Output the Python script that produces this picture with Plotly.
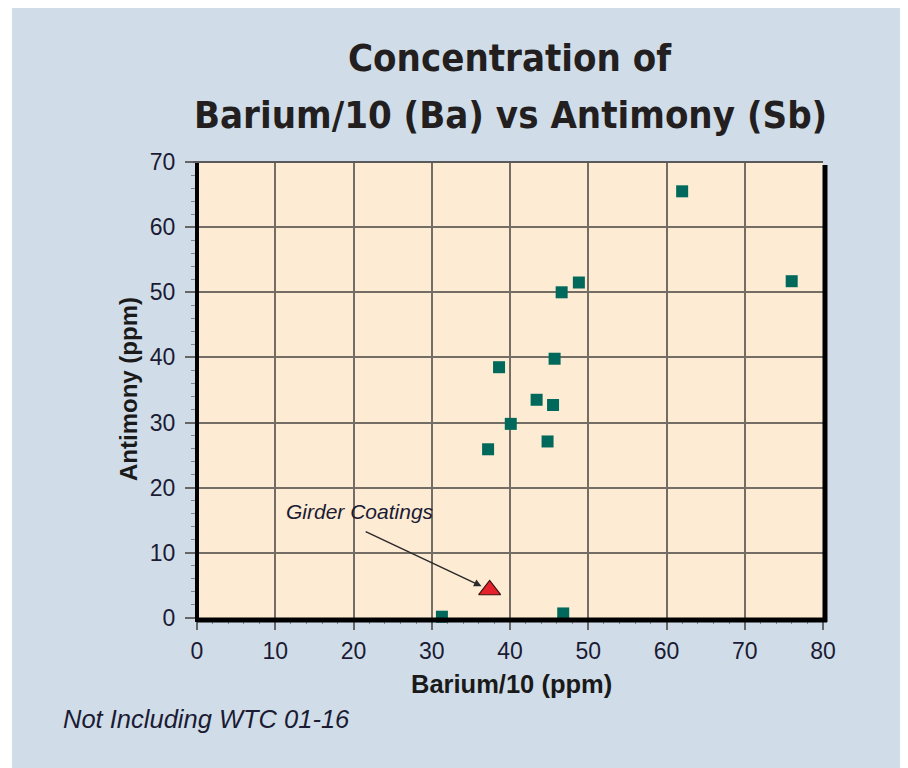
import plotly.graph_objects as go

# Barium/10 vs Antimony readings (ppm)
barium_10 = [31.3, 37.2, 38.6, 40.1, 43.4, 44.8, 45.5, 45.7, 46.6, 46.8, 48.8, 62.0, 76.0]
antimony = [0.2, 25.9, 38.5, 29.8, 33.5, 27.1, 32.7, 39.8, 50.0, 0.7, 51.5, 65.5, 51.7]

# girder coatings sample
girder_x = [37.4]
girder_y = [4.3]

x_ticks = [0, 10, 20, 30, 40, 50, 60, 70, 80]
y_ticks = [0, 10, 20, 30, 40, 50, 60, 70]

BLUE = "#d0dde9"
CREAM = "#fdebd3"
TEXT = "#1b1b33"
TITLE_FONT = "DejaVu Sans Condensed, Liberation Sans Narrow, DejaVu Sans, sans-serif"
LABEL_FONT = "Liberation Sans, Arial, sans-serif"

fig = go.Figure()
fig.add_trace(go.Scatter(
    x=barium_10, y=antimony, mode="markers",
    marker=dict(symbol="square", size=12, color="#00695c"),
    cliponaxis=False, showlegend=False,
))
fig.add_trace(go.Scatter(
    x=girder_x, y=girder_y, mode="markers",
    marker=dict(symbol="triangle-up", size=19, color="#e5212b",
                line=dict(color="#3a1010", width=1.2)),
    showlegend=False,
))

# plot frame: thick black left/bottom/right, thin gray top
pw, ph = 626.0, 456.0
frame = [
    dict(x0=0, x1=0, y0=-4 / ph, y1=1, color="black", width=4),
    dict(x0=0, x1=1 + 4 / pw, y0=-2 / ph, y1=-2 / ph, color="black", width=5),
    dict(x0=1 + 2 / pw, x1=1 + 2 / pw, y0=-4 / ph, y1=1 - 3 / ph, color="black", width=5),
    dict(x0=-4 / pw, x1=1, y0=1, y1=1, color="#5a5a5a", width=2),
]
shapes = []
for f in frame:
    shapes.append(dict(type="line", xref="paper", yref="paper",
                       x0=f["x0"], x1=f["x1"], y0=f["y0"], y1=f["y1"],
                       line=dict(color=f["color"], width=f["width"]), layer="above"))
# thin white strip on the left edge (page margin gives the rest)
shapes.append(dict(type="rect", xref="paper", yref="paper", x0=-200 / pw, x1=(12 - 197) / pw,
                   y0=-1.0, y1=2.0, fillcolor="white", line_width=0, layer="above"))


def note(text, x, y, size, family=LABEL_FONT, color=TEXT, **kw):
    return dict(text=text, xref="paper", yref="paper", x=x, y=y, xanchor=kw.pop("xanchor", "center"),
                yanchor="middle", showarrow=False, font=dict(family=family, size=size, color=color), **kw)


annotations = [
    note("<b>Concentration of</b>", 0.5, (618 - 58) / ph, 38, TITLE_FONT, "#231f20"),
    note("<b>Barium/10 (Ba) vs Antimony (Sb)</b>", 0.5, (618 - 115) / ph, 38, TITLE_FONT, "#231f20"),
    note("<b>Barium/10 (ppm)</b>", (511 - 197) / pw, (618 - 684) / ph, 25.5, color="#1a1a1a"),
    note("<b>Antimony (ppm)</b>", (128 - 197) / pw, (618 - 389) / ph, 24, color="#1a1a1a", textangle=-90),
    note("<i>Not Including WTC 01-16</i>", (61 - 197) / pw, (618 - 719) / ph, 25.5, xanchor="left"),
    dict(text="<i>Girder Coatings</i>", x=20.8, y=16.3, showarrow=False,
         font=dict(family=LABEL_FONT, size=21, color=TEXT)),
    dict(text=" ", x=girder_x[0], y=girder_y[0], ax=21.3, ay=13.4, axref="x", ayref="y",
         showarrow=True, arrowhead=2, arrowsize=1, arrowwidth=1.5, arrowcolor="#2a2a2a",
         standoff=9, font=dict(size=2)),
]

axis_common = dict(
    showgrid=True, gridcolor="#736d66", gridwidth=1.5, zeroline=False, showline=False,
    ticks="outside", ticklen=11, tickwidth=1.5, tickcolor="#666666",
    tickfont=dict(family=LABEL_FONT, size=23, color=TEXT),
    minor=dict(dtick=2, ticks="outside", ticklen=5, tickwidth=1, tickcolor="#888888", showgrid=False),
)

# the page adds an 8px margin, so the figure is 8px smaller and shifted
fig.update_layout(
    width=900, height=760,
    margin=dict(l=189, r=85, t=154, b=150),
    paper_bgcolor=BLUE, plot_bgcolor=CREAM,
    shapes=shapes, annotations=annotations,
    xaxis=dict(range=[0, 80], tickvals=x_ticks, ticklabelstandoff=1, **axis_common),
    yaxis=dict(range=[0, 70], tickvals=y_ticks, ticklabelstandoff=5, **axis_common),
)

fig.write_html("out.html")
